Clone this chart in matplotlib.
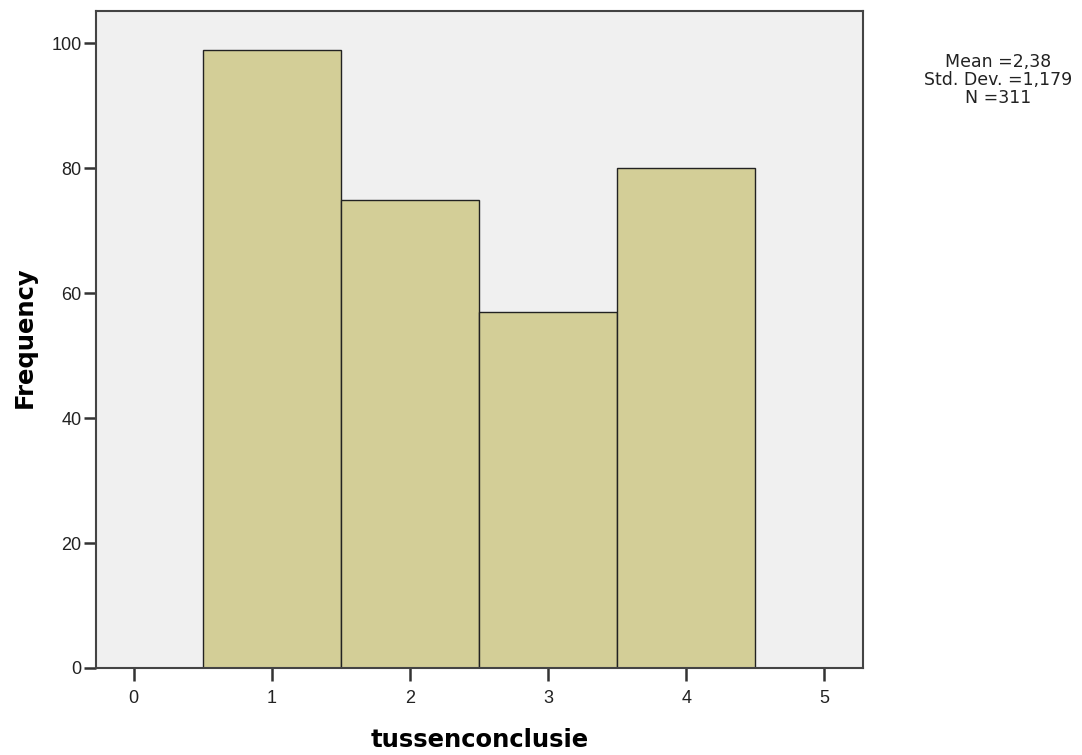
import matplotlib
matplotlib.use("Agg")
import matplotlib.pyplot as plt

values = [1, 2, 3, 4]
counts = [99, 75, 57, 80]
x_ticks = [0, 1, 2, 3, 4, 5]
y_ticks = [0, 20, 40, 60, 80, 100]
stats_text = "Mean =2,38\nStd. Dev. =1,179\nN =311"

fig = plt.figure(figsize=(10.82, 7.55), dpi=100)
fig.patch.set_facecolor("white")
ax = fig.add_axes([96 / 1082, 87 / 755, 767 / 1082, 657 / 755])
ax.set_facecolor("#f0f0f0")

ax.bar(values, counts, width=1.0, color="#d3ce97", edgecolor="#222222", linewidth=1.0)

ax.set_xlim(-0.272, 5.28)
ax.set_ylim(0, 105.2)
ax.set_xticks(x_ticks)
ax.set_yticks(y_ticks)
ax.tick_params(direction="out", length=9, width=1.8, color="#333333",
               labelsize=13, labelcolor="#222222")
ax.tick_params(axis="x", pad=7)
ax.tick_params(axis="y", pad=1.5)
for lbl in ax.get_xticklabels() + ax.get_yticklabels():
    lbl.set_family("Liberation Sans")

for sp in ax.spines.values():
    sp.set_color("#444444")
    sp.set_linewidth(1.5)

ax.set_ylabel("Frequency", fontsize=17.5, fontweight="bold", family="DejaVu Sans")
ax.yaxis.set_label_coords(25 / 1082, 1 - 337 / 755, transform=fig.transFigure)
ax.yaxis.label.set_va("center")
ax.set_xlabel("tussenconclusie", fontsize=17.5, fontweight="bold", family="DejaVu Sans")
ax.xaxis.set_label_coords(479.5 / 1082, 1 - 740 / 755, transform=fig.transFigure)
ax.xaxis.label.set_va("center")

fig.text(998 / 1082, 1 - 80 / 755, stats_text, ha="center", va="center",
         fontsize=12.5, family="DejaVu Sans", color="#222222", linespacing=1.0)

fig.savefig("out.png", dpi=100)
